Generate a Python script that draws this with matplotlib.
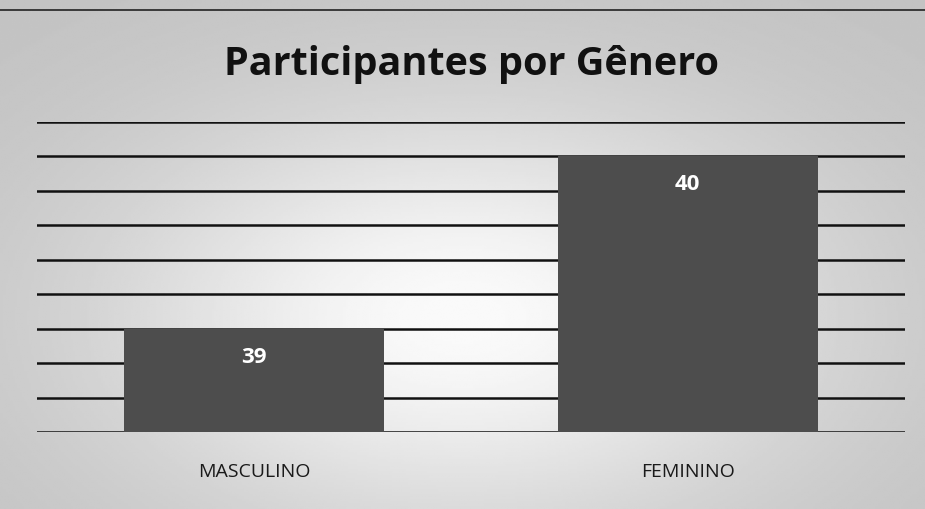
import matplotlib
matplotlib.use("Agg")
import matplotlib.pyplot as plt
import numpy as np

categories = ["MASCULINO", "FEMININO"]
values = [39, 40]
y_min, y_max, y_step = 38.4, 40.2, 0.2
title = "Participantes por Gênero"

fig = plt.figure(figsize=(9.25, 5.09), dpi=100)
fig.patch.set_facecolor("#d0d0d0")

# background gradient (scan look: lighter in the middle)
bg = fig.add_axes([0, 0, 1, 1], zorder=-10)
xs = np.linspace(-1, 1, 400)
ys = np.linspace(-1, 1, 220)
X, Y = np.meshgrid(xs, ys)
G = 0.76 + 0.22 * np.exp(-((X * 1.3) ** 2) - ((Y - 0.25) * 1.2) ** 2)
bg.imshow(G, cmap="gray", vmin=0, vmax=1, aspect="auto", extent=[0, 1, 0, 1])
bg.set_axis_off()
bg.plot([0, 1], [0.980, 0.980], color="#222222", lw=1.2, transform=bg.transAxes)

ax = fig.add_axes([0.04, 0.1513, 0.938, 0.6090])
ax.set_facecolor("none")
x = np.arange(len(categories))
bars = ax.bar(x, values, width=0.6, color="#4d4d4d", zorder=3)
ax.set_xlim(-0.5, len(categories) - 0.5)
ax.set_ylim(y_min, y_max)
for gy in np.arange(y_min, y_max + 1e-9, y_step):
    ax.axhline(gy, color="#111111", lw=1.8, zorder=1)

for b, v in zip(bars, values):
    ax.annotate(str(v), (b.get_x() + b.get_width() / 2, v), xytext=(0, -20.5),
                textcoords="offset points", ha="center", va="center",
                color="white", fontsize=16, fontweight="bold",
                family="Open Sans", zorder=4)

ax.set_xticks(x)
ax.set_xticklabels(categories, fontsize=14, family="Open Sans", color="#1a1a1a")
ax.tick_params(axis="x", length=0, pad=22.5)
ax.set_yticks([])
for s in ax.spines.values():
    s.set_visible(False)

fig.text(0.510, 1 - 75 / 509, title, ha="center", va="baseline", fontsize=28.5,
         fontweight="bold", family="Open Sans", color="#111111")

fig.savefig("out.png", dpi=100, facecolor=fig.get_facecolor())
